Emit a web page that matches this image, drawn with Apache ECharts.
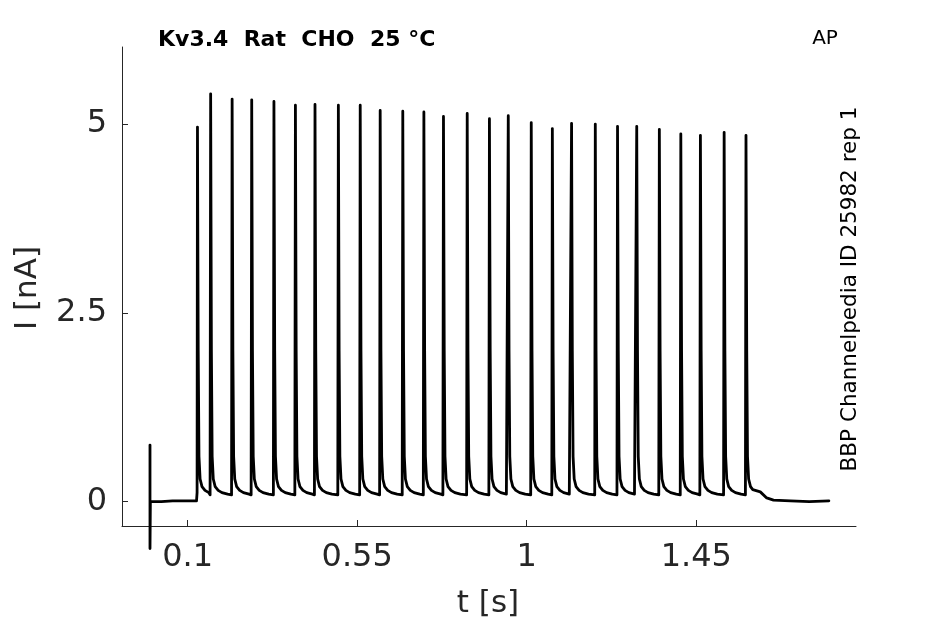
<!DOCTYPE html>
<html><head><meta charset="utf-8">
<script src="https://cdn.jsdelivr.net/npm/echarts@6/dist/echarts.min.js"></script>
<style>html,body{margin:0;padding:0;background:#fff}#c{width:945px;height:624px}</style>
</head><body><div id="c"></div>
<script>
// ---- data ----
const xTicks = [0.1, 0.55, 1, 1.45];
const yTicks = [0, 2.5, 5];

// stimulus artifact + baseline before the train [t (s), I (nA)]
const preTrace = [[0, 0.75], [0, -0.62], [0.001, 0.0], [0.03, 0.0], [0.06, 0.01], [0.1235, 0.01], [0.125, 0.12]];

// spike times (s) and peak currents (nA)
const spikeTimes = [0.126, 0.161, 0.218, 0.270, 0.329, 0.386, 0.438, 0.500, 0.558, 0.611,
  0.671, 0.727, 0.779, 0.842, 0.901, 0.951, 1.012, 1.068, 1.119, 1.182,
  1.241, 1.292, 1.352, 1.409, 1.461, 1.524, 1.582];
const spikePeaks = [4.96, 5.40, 5.33, 5.32, 5.30, 5.25, 5.26, 5.25, 5.25, 5.18,
  5.17, 5.16, 5.10, 5.14, 5.07, 5.11, 5.02, 4.94, 5.01, 5.00,
  4.97, 4.97, 4.93, 4.87, 4.85, 4.89, 4.85];

// inter-spike waveform: offset after spike (s), current (nA)
const decayOffsets = [0.002, 0.004, 0.007, 0.012, 0.020, 0.030, 0.045];
const decayValues  = [2.0, 0.6, 0.30, 0.20, 0.15, 0.12, 0.10];
const preSpikeLevel = 0.09;

// after the train [t (s), I (nA)]
const postTrace = [[1.600, 0.16], [1.620, 0.13], [1.637, 0.05], [1.655, 0.02], [1.700, 0.01], [1.750, 0.0], [1.802, 0.01]];

// ---- assemble the line ----
const trace = preTrace.slice();
spikeTimes.forEach((t, i) => {
  if (i > 0) trace.push([t - 0.0015, preSpikeLevel]);
  trace.push([t, spikePeaks[i]]);
  const limit = i < spikeTimes.length - 1 ? spikeTimes[i + 1] - t - 0.003 : 0.013;
  decayOffsets.forEach((d, k) => { if (d < limit) trace.push([t + d, decayValues[k]]); });
});
postTrace.forEach(p => trace.push(p));

const FONT = 'DejaVu Sans';
const TXT = '#262626';
const chart = echarts.init(document.getElementById('c'), null, {renderer: 'canvas'});
chart.setOption({
  animation: false,
  backgroundColor: '#fff',
  grid: {left: 122, right: 89, top: 47, bottom: 98, containLabel: false},
  xAxis: {
    type: 'value', min: -0.0743, max: 1.874,
    axisLine: {show: true, onZero: false, lineStyle: {color: '#262626', width: 1}},
    axisTick: {show: true, inside: true, length: 6, customValues: xTicks, lineStyle: {color: '#262626'}},
    axisLabel: {customValues: xTicks, fontFamily: FONT, fontSize: 32, color: TXT, margin: 16},
    splitLine: {show: false}
  },
  yAxis: {
    type: 'value', min: -0.322, max: 6.02,
    axisLine: {show: true, onZero: false, lineStyle: {color: '#262626', width: 1}},
    axisTick: {show: true, inside: true, length: 6, customValues: yTicks, lineStyle: {color: '#262626'}},
    axisLabel: {customValues: yTicks, fontFamily: FONT, fontSize: 32, color: TXT, margin: 15},
    splitLine: {show: false}
  },
  graphic: [
    {type: 'text', x: 28, y: 288, rotation: Math.PI / 2,
     style: {text: 'I [nA]', fontFamily: FONT, fontSize: 31, fill: TXT, align: 'center', verticalAlign: 'middle'}},
    {type: 'text', x: 488, y: 604,
     style: {text: 't [s]', fontFamily: FONT, fontSize: 31, fill: TXT, align: 'center', verticalAlign: 'middle'}},
    {type: 'text', x: 158, y: 40,
     style: {text: 'Kv3.4  Rat  CHO  25 °C', fontFamily: FONT, fontWeight: 'bold', fontSize: 22, fill: '#000', align: 'left', verticalAlign: 'middle'}},
    {type: 'text', x: 825, y: 39,
     style: {text: 'AP', fontFamily: FONT, fontSize: 20, fill: '#000', align: 'center', verticalAlign: 'middle'}},
    {type: 'text', x: 850, y: 289, rotation: Math.PI / 2,
     style: {text: 'BBP Channelpedia ID 25982 rep 1', fontFamily: FONT, fontSize: 21.5, fill: '#000', align: 'center', verticalAlign: 'middle'}}
  ],
  series: [{
    type: 'line', data: trace, showSymbol: false, symbol: 'none', smooth: false, clip: false,
    lineStyle: {color: '#000', width: 2.8, join: 'round', cap: 'round'}
  }]
});
</script></body></html>
